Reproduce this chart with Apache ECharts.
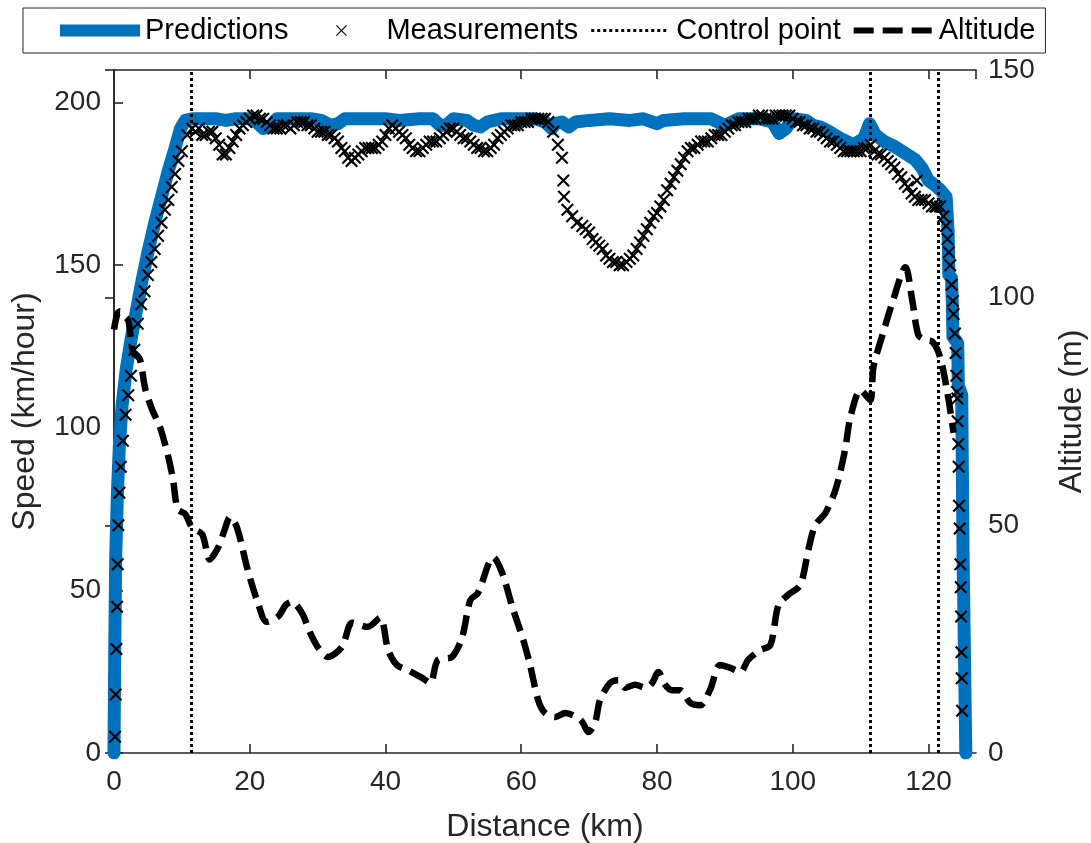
<!DOCTYPE html>
<html>
<head>
<meta charset="utf-8">
<script src="https://cdn.jsdelivr.net/npm/echarts@6/dist/echarts.min.js"></script>
<style>
html,body{margin:0;padding:0;background:#fff;}
#chart{width:1091px;height:843px;}
</style>
</head>
<body>
<div id="chart"></div>
<script>
// ---- data (distance km, value) ----
const predictions = [[0,0],[0.1,30],[0.25,60],[0.5,80],[0.8,95],[1.2,107],[1.8,118],[2.5,127],[3.3,136],[4.2,146],[5,154],[6,163],[7,171],[8,179],[9,186],[9.8,192],[10.5,194.5],[11.5,195],[13,195],[15,195],[16.5,194.5],[18,195],[20,195],[21,194],[22,192],[23,192.5],[24,195],[27,195],[29,195],[30.5,194.5],[32,193],[33,193.5],[34,195],[38,195],[40,195],[42,194.5],[45,195],[47,195],[48,193],[49,193],[50,195],[52,194.5],[53,193],[54,192.5],[55,194],[57,195],[60,195],[62,195],[63.5,194],[64.5,192],[65,193.5],[66,194],[67,192.5],[68,194],[70,194.5],[73,195],[76,194.5],[78,195],[80,193.5],[81,194.5],[84,195],[88,195],[90,193],[92,195],[95,195],[97,194],[98,190.5],[99,192],[100,195],[102,194.5],[103,193],[104,192.5],[105,191.5],[107,189],[109,187],[110.5,189],[111.3,193.5],[112.2,190],[113.5,188],[115,186.5],[116.5,184.5],[118,182.5],[119,180],[120,176],[121,174.5],[121.8,173],[122.6,171],[122.9,160],[123.0,147],[123.4,146],[123.5,139],[123.6,128],[124.3,126],[124.4,113],[124.9,110],[125.1,60],[125.5,0]];

const measurements = [[0.15,5],[0.25,18],[0.35,32],[0.45,45],[0.55,58],[0.65,70],[0.8,80],[1.0,88],[1.3,96],[1.7,104],[2.1,110],[2.5,116],[3.0,124],[3.5,132],[4.0,138],[4.5,142],[5,147],[5.5,151],[6,155],[6.5,159],[7,163],[7.5,167],[8,170],[8.5,174],[9,178],[9.5,182],[10,185],[10.8,190],[11.5,192],[12,191],[12.5,192],[13,190],[13.5,190],[14,191],[14.5,191],[15,189],[15.5,187],[16,184],[16.5,184],[17,186],[17.5,188],[18,190],[18.5,192],[19,193],[19.5,194],[20,195],[20.5,196],[21,196],[21.5,195],[22,195],[22.5,194],[23,193],[23.5,192],[24,192],[24.5,192],[25,193],[25.5,193],[26,192],[26.5,193],[27,194],[27.5,194],[28,194],[28.5,193],[29,193],[29.5,192],[30,191],[30.5,191],[31,191],[31.5,190],[32,190],[32.5,189],[33,188],[33.5,186],[34,185],[34.5,183],[35,182],[35.5,183],[36,184],[36.5,185],[37,186],[37.5,186],[38,186],[38.5,186],[39,187],[39.5,188],[40,190],[40.5,192],[41,193],[41.5,192],[42,191],[42.5,190],[43,189],[43.5,187],[44,186],[44.5,185],[45,185],[45.5,186],[46,187],[46.5,188],[47,188],[47.5,188],[48,189],[48.5,190],[49,191],[49.5,192],[50,192],[50.5,191],[51,190],[51.5,189],[52,189],[52.5,188],[53,187],[53.5,186],[54,186],[54.5,185],[55,185],[55.5,186],[56,187],[56.5,189],[57,190],[57.5,191],[58,192],[58.5,193],[59,193],[59.5,193],[60,194],[60.5,194],[61,194],[61.5,195],[62,195],[62.5,195],[63,195],[63.5,195],[64,194],[64.7,191],[65.4,187],[66,183],[66.2,176],[66.3,171],[66.8,167],[67.5,165],[68.2,163],[69,162],[69.5,161],[70,160],[70.5,158],[71,157],[71.5,156],[72,155],[72.5,153],[73,152],[73.5,151],[74,151],[74.5,150],[75,150],[75.5,151],[76,152],[76.5,153],[77,155],[77.5,157],[78,159],[78.5,161],[79,163],[79.5,165],[80,166],[80.5,168],[81,170],[81.5,173],[82,175],[82.5,177],[83,179],[83.5,181],[84,183],[84.5,185],[85,186],[85.5,186],[86,187],[86.5,188],[87,188],[87.5,188],[88,189],[88.5,190],[89,190],[89.5,190],[90,191],[90.5,192],[91,193],[91.5,193],[92,194],[92.5,194],[93,194],[93.5,195],[94,195],[94.5,195],[95,196],[95.5,196],[96,195],[96.5,195],[97,195],[97.5,196],[98,196],[98.5,196],[99,196],[99.5,196],[100,195],[100.5,194],[101,194],[101.5,193],[102,193],[102.5,192],[103,192],[103.5,191],[104,191],[104.5,190],[105,189],[105.5,188],[106,188],[106.5,187],[107,186],[107.5,185],[108,185],[108.5,185],[109,185],[109.5,185],[110,185],[110.5,186],[111,186],[111.5,187],[112,185],[112.5,184],[113,184],[113.5,183],[114,182],[114.5,181],[115,180],[115.5,178],[116,177],[116.5,175],[117,174],[117.5,172],[118,171],[118.3,176],[118.5,170],[119,170],[119.5,170],[120,169],[120.5,168],[121,168],[121.2,168],[121.7,168],[122.2,165],[122.6,162],[122.8,158],[123,154],[123.2,150],[123.4,144],[123.6,139],[123.7,135],[123.9,129],[124,123],[124.1,116],[124.2,111],[124.25,109],[124.3,102],[124.4,95],[124.45,88],[124.5,76],[124.6,69],[124.7,58],[124.75,51],[124.8,42],[124.85,31],[124.9,23],[124.95,13]];

const altitude = [[0,93],[0.5,96.5],[0.9,97],[1.5,96],[2.1,95],[2.4,92],[2.8,88],[3.8,86.5],[4.6,80],[5.6,75.5],[6.8,71.5],[8.0,65],[8.7,60],[9.4,53.5],[10.5,52.5],[11.5,49.5],[13.0,48],[14.1,42.5],[15.3,45],[16.3,49],[17.1,51.8],[18.1,49.6],[19.7,40.2],[21.2,33],[22.5,28.8],[24.2,30],[25.3,32.5],[26.2,33.2],[27.7,30.7],[28.9,26.4],[30.1,23.1],[31.5,21.1],[33.6,23.3],[35.1,28.6],[37.4,27.7],[39.2,29.7],[40.4,22.6],[41.7,19.3],[43.3,18.2],[45.4,16.5],[46.6,15.4],[47.7,20.4],[49.8,21.1],[51.3,25.5],[52.5,33.6],[53.6,35.1],[55.9,43],[57.2,39.5],[58.7,32],[60.3,24.8],[61.3,19.3],[62.5,11.6],[63.5,8.8],[65,7.9],[66.5,8.8],[67.9,8.1],[69,6.8],[69.9,4.6],[70.9,6.8],[71.6,11.6],[73.1,15.4],[74.3,16],[75.3,14.3],[76.8,15],[78.3,14.3],[79.3,15.4],[80.2,17.8],[81.2,15],[82.2,13.8],[83.4,13.8],[84.9,11],[86.4,10.5],[87.8,13.8],[89.3,19.3],[90.8,18.7],[92.3,17.8],[93.4,20.4],[95.2,22.6],[96.7,23.7],[97.9,32.5],[99.3,34.7],[101.1,36.9],[102.3,44.6],[103.3,50],[104.8,52.7],[106.3,57.8],[107.7,66.5],[108.5,73.8],[110,79.7],[111.4,77.5],[111.9,84.8],[113.3,92.2],[114.8,99.5],[116.6,106.7],[117.6,99.5],[118.5,91.8],[119.5,90.7],[120.6,90.3],[121.7,87],[122.8,79],[123.7,70.3]];

const controlPoints = [11.4, 111.4, 121.4];

const speedTicks = {min: 0, max: 210, interval: 50};
const altTicks = {min: 0, max: 150, interval: 50};
const distTicks = {min: 0, max: 127, interval: 20};

// ---- styling helpers ----
const FONT = "'Liberation Sans', Arial, Helvetica, sans-serif";
const AX = '#262626';
const BLUE = '#0072BD';
const crossPath = 'path://M0,1.15L1.15,0L5,3.85L8.85,0L10,1.15L6.15,5L10,8.85L8.85,10L5,6.15L1.15,10L0,8.85L3.85,5Z';

// legend icons drawn inside an 80x12 box (tiny corner points fix the box size)
const ICON_W = 80, ICON_H = 12;
function boxCorners() {
  return 'M0,0L0.01,0L0,0.01Z' + 'M' + ICON_W + ',' + ICON_H + 'L' + (ICON_W - 0.01) + ',' + ICON_H + 'L' + ICON_W + ',' + (ICON_H - 0.01) + 'Z';
}
function rectPath(x0, y0, x1, y1) {
  return 'M' + x0 + ',' + y0 + 'L' + x1 + ',' + y0 + 'L' + x1 + ',' + y1 + 'L' + x0 + ',' + y1 + 'Z';
}
function crossIcon() {
  const cx = ICON_W / 2, cy = ICON_H / 2, s = 5.5, t = 0.8;
  const p = [[-s, -s + t], [-s + t, -s], [0, -t], [s - t, -s], [s, -s + t], [t, 0], [s, s - t], [s - t, s], [0, t], [-s + t, s], [-s, s - t], [-t, 0]];
  return 'path://' + boxCorners() + 'M' + p.map(q => (cx + q[0]) + ',' + (cy + q[1])).join('L') + 'Z';
}
function dottedIcon() {
  let d = boxCorners();
  for (let x = 0; x + 3 <= ICON_W; x += 6) d += rectPath(x, 4.5, x + 3, 7.5);
  return 'path://' + d;
}
function dashedIcon() {
  let d = boxCorners();
  for (let x = 0; x + 20 <= ICON_W; x += 29) d += rectPath(x, 3, x + 20, 9);
  return 'path://' + d;
}

const chart = echarts.init(document.getElementById('chart'), null, {renderer: 'canvas'});

function xAxisBase(pos) {
  return {
    type: 'value', position: pos,
    min: distTicks.min, max: distTicks.max, interval: distTicks.interval,
    axisLine: {show: true, onZero: false, lineStyle: {color: AX, width: 1.6}},
    axisTick: {show: true, inside: true, length: 9, lineStyle: {color: AX, width: 1.6}},
    splitLine: {show: false}
  };
}

const option = {
  backgroundColor: '#fff',
  animation: false,
  textStyle: {fontFamily: FONT},
  grid: {left: 114, right: 115, top: 70, bottom: 90, containLabel: false, outerBoundsMode: 'none'},
  legend: {
    left: 23, top: 8,
    padding: [8, 10, 8, 37],
    itemWidth: ICON_W, itemHeight: ICON_H, itemGap: 13,
    borderColor: AX, borderWidth: 1,
    textStyle: {fontSize: 29, color: '#000', fontFamily: FONT},
    data: [
      {name: 'Predictions', icon: 'rect'},
      {name: 'Measurements', icon: crossIcon()},
      {name: 'Control point', icon: dottedIcon()},
      {name: 'Altitude', icon: dashedIcon()}
    ]
  },
  xAxis: [
    Object.assign(xAxisBase('bottom'), {
      name: 'Distance (km)', nameLocation: 'middle', nameGap: 58,
      nameTextStyle: {fontSize: 32, color: AX, fontFamily: FONT},
      axisLabel: {show: true, fontSize: 28, color: AX, margin: 15, showMaxLabel: false, fontFamily: FONT}
    }),
    Object.assign(xAxisBase('top'), {
      axisLabel: {show: false}
    })
  ],
  yAxis: [
    {
      type: 'value', position: 'left',
      min: speedTicks.min, max: speedTicks.max, interval: speedTicks.interval,
      name: 'Speed (km/hour)', nameLocation: 'middle', nameGap: 73,
      nameTextStyle: {fontSize: 32, color: AX, fontFamily: FONT},
      axisLine: {show: true, lineStyle: {color: AX, width: 1.6}},
      axisTick: {show: true, inside: true, length: 9, lineStyle: {color: AX, width: 1.6}},
      axisLabel: {fontSize: 28, color: AX, margin: 13, showMaxLabel: false, fontFamily: FONT},
      splitLine: {show: false}
    },
    {
      type: 'value', position: 'right',
      min: altTicks.min, max: altTicks.max, interval: altTicks.interval,
      name: 'Altitude (m)', nameLocation: 'middle', nameGap: 80,
      nameTextStyle: {fontSize: 32, color: AX, fontFamily: FONT},
      axisLine: {show: true, lineStyle: {color: AX, width: 1.6}},
      axisTick: {show: true, inside: true, length: 9, lineStyle: {color: AX, width: 1.6}},
      axisLabel: {fontSize: 28, color: AX, margin: 12, fontFamily: FONT},
      splitLine: {show: false}
    }
  ],
  series: [
    {
      name: 'Predictions', type: 'line', xAxisIndex: 0, yAxisIndex: 0,
      data: predictions, symbol: 'none', smooth: false,
      lineStyle: {color: BLUE, width: 13, cap: 'round', join: 'round'},
      itemStyle: {color: BLUE}, z: 2
    },
    {
      name: 'Measurements', type: 'scatter', xAxisIndex: 0, yAxisIndex: 0,
      data: measurements, symbol: crossPath, symbolSize: 13,
      itemStyle: {color: '#000', opacity: 1}, z: 3
    },
    {
      name: 'Control point', type: 'line', xAxisIndex: 0, yAxisIndex: 0,
      data: [], symbol: 'none',
      lineStyle: {color: '#000', width: 3, type: [3, 3]},
      itemStyle: {color: '#000'},
      markLine: {
        silent: true, symbol: ['none', 'none'],
        label: {show: false},
        lineStyle: {color: '#000', width: 3, type: [3, 3]},
        data: controlPoints.map(v => ({xAxis: v}))
      },
      z: 4
    },
    {
      name: 'Altitude', type: 'line', xAxisIndex: 0, yAxisIndex: 1,
      data: altitude, symbol: 'none', smooth: 0.3,
      lineStyle: {color: '#000', width: 6.5, type: [20, 9], cap: 'butt', join: 'round'},
      itemStyle: {color: '#000'}, z: 5
    }
  ]
};
chart.setOption(option);
</script>
</body>
</html>
